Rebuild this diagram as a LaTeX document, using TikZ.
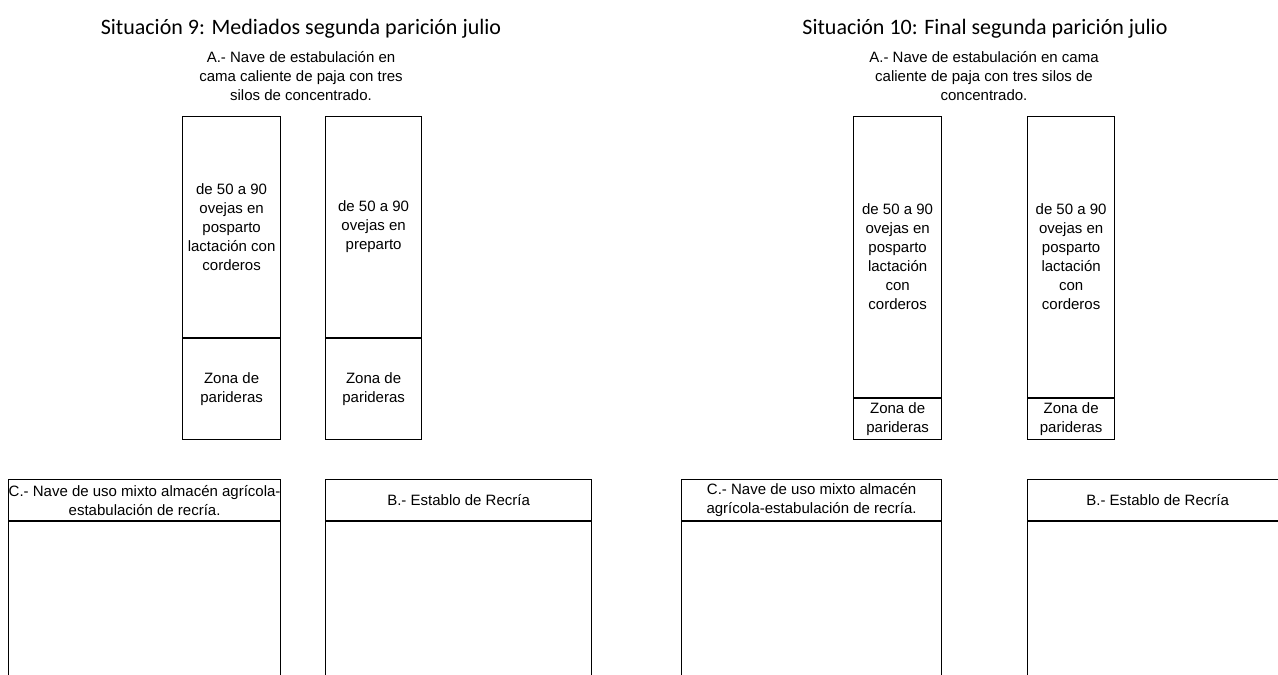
\documentclass[tikz,border=0pt]{standalone}
\usepackage{fontspec}
\setmainfont{Liberation Sans}
\newfontfamily\titlefont{Carlito}
\usetikzlibrary{positioning}

\begin{document}
\begin{tikzpicture}[x=1pt,y=-1pt,
  every node/.style={font=\fontsize{15pt}{19pt}\selectfont},
  titulo/.style={font=\titlefont\fontsize{22pt}{26pt}\selectfont},
  subtitulo/.style={align=center},
  box/.style={draw,line width=1.2pt,rectangle,inner sep=0pt,align=center,anchor=north west}]

      \useasboundingbox (0,0) rectangle (1278,675);
      \clip (0,0) rectangle (1278,675);

      % Situacion 9
      \node[titulo] (t9) at (301,29) {Situación 9: Mediados segunda parición julio};
      \node[subtitulo] (a9) at (301,76) {A.- Nave de estabulación en\\cama caliente de paja con tres\\silos de concentrado.};

      \node[box,minimum width=98pt,minimum height=221pt] (p91) at (182,116) {de 50 a 90\\ovejas en\\posparto\\lactación con\\corderos};
      \node[box,minimum width=98pt,minimum height=101pt,below=0pt of p91] (z91) {Zona de\\parideras};
      \node[box,minimum width=96pt,minimum height=221pt] (p92) at (325,116) {de 50 a 90\\ovejas en\\preparto};
      \node[box,minimum width=96pt,minimum height=101pt,below=0pt of p92] (z92) {Zona de\\parideras};

      \node[box,minimum width=272pt,minimum height=41pt] (c9) at (8,479) {C.- Nave de uso mixto almacén agrícola-\\estabulación de recría.};
      \node[box,minimum width=272pt,minimum height=220pt,below=0pt of c9] (c9n) {};
      \node[box,minimum width=266pt,minimum height=41pt] (b9) at (325,479) {B.- Establo de Recría};
      \node[box,minimum width=266pt,minimum height=220pt,below=0pt of b9] (b9n) {};

      % Situacion 10
      \node[titulo] (t10) at (985,29) {Situación 10: Final segunda parición julio};
      \node[subtitulo] (a10) at (984,76) {A.- Nave de estabulación en cama\\caliente de paja con tres silos de\\concentrado.};

      \node[box,minimum width=88pt,minimum height=281pt] (p101) at (853,116) {de 50 a 90\\ovejas en\\posparto\\lactación\\con\\corderos};
      \node[box,minimum width=88pt,minimum height=41pt,below=0pt of p101] (z101) {Zona de\\parideras};
      \node[box,minimum width=87pt,minimum height=281pt] (p102) at (1027,116) {de 50 a 90\\ovejas en\\posparto\\lactación\\con\\corderos};
      \node[box,minimum width=87pt,minimum height=41pt,below=0pt of p102] (z102) {Zona de\\parideras};

      \node[box,minimum width=260pt,minimum height=41pt] (c10) at (681,479) {C.- Nave de uso mixto almacén\\agrícola-estabulación de recría.};
      \node[box,minimum width=260pt,minimum height=220pt,below=0pt of c10] (c10n) {};
      \node[box,minimum width=260pt,minimum height=41pt] (b10) at (1027,479) {B.- Establo de Recría};
      \node[box,minimum width=260pt,minimum height=220pt,below=0pt of b10] (b10n) {};

\end{tikzpicture}
\end{document}
